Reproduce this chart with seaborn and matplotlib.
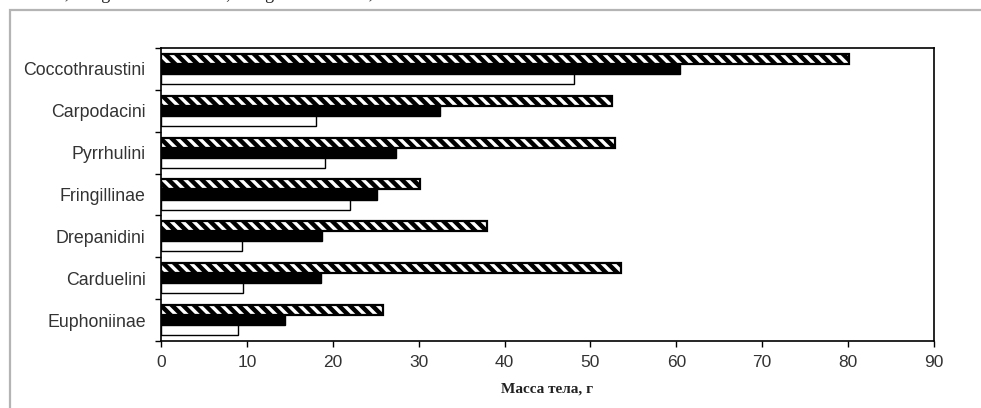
import pandas as pd
import matplotlib.pyplot as plt
import matplotlib.patches as mpatches
import seaborn as sns

# ── Data ─────────────────────────────────────────────────────
groups = ['Coccothraustini', 'Carpodacini', 'Pyrrhulini', 'Fringillinae',
          'Drepanidini', 'Carduelini', 'Euphoniinae']
mass_max = [80.1, 52.5, 52.9, 30.2, 38.0, 53.5, 25.9]
mass_mean = [60.4, 32.5, 27.4, 25.1, 18.8, 18.6, 14.4]
mass_min = [48.1, 18.1, 19.1, 22.0, 9.4, 9.6, 9.0]
series = ['max', 'mean', 'min']
x_ticks = list(range(0, 91, 10))

df = pd.DataFrame({
    'group': groups * 3,
    'mass': mass_max + mass_mean + mass_min,
    'series': [s for s in series for _ in groups],
})

# ── Style ────────────────────────────────────────────────────
sns.set_style('white')
plt.rcParams['font.family'] = ['Liberation Sans', 'DejaVu Sans']
plt.rcParams['hatch.linewidth'] = 3.2
plt.rcParams['hatch.color'] = 'black'

fig = plt.figure(figsize=(9.81, 4.08), dpi=100)
fig.patch.set_facecolor('white')

# outer gray frame of the scanned figure
fig.patches.append(mpatches.Rectangle((10 / 981, -0.05), 1.1, 1 - 10 / 408 + 0.05,
                                      transform=fig.transFigure, fill=False,
                                      edgecolor='#b4b4b4', linewidth=1.6))
# clipped caption line above the chart
fig.text(0.03, 1.014, '2008; Sangster   Drickamer, Fringillidae   2013; 0            ЗИН РАН',
         family='Liberation Serif', fontsize=13, color='#222222', va='center')

ax = fig.add_axes([161 / 981, 1 - 341 / 408, (934 - 161) / 981, (341 - 48) / 408])

sns.barplot(data=df, y='group', x='mass', hue='series', orient='h',
            order=groups, hue_order=series, width=0.72, gap=0,
            palette=['white', 'black', 'white'], edgecolor='black',
            linewidth=1.0, legend=False, ax=ax)

for bar in ax.containers[0]:
    bar.set_hatch('\\\\\\')
    bar.set_edgecolor('black')
    bar.set_linewidth(1.6)

ax.set_xlim(0, 90)
ax.set_ylim(len(groups) - 0.5, -0.5)
ax.set_xticks(x_ticks)
ax.set_xticklabels([str(t) for t in x_ticks])
ax.set_yticks(range(len(groups)))
ax.set_yticks([i - 0.5 for i in range(len(groups) + 1)], minor=True)

ax.tick_params(axis='y', which='major', length=0, pad=11,
               labelsize=12.8, labelcolor='#333333')
ax.tick_params(axis='y', which='minor', length=4, width=1.0,
               color='black', direction='out', left=True)
ax.tick_params(axis='x', which='major', length=4, width=1.0,
               color='black', direction='out', bottom=True, pad=6,
               labelsize=12.5, labelcolor='#333333')

for side in ['left', 'right', 'top', 'bottom']:
    ax.spines[side].set_visible(True)
    ax.spines[side].set_color('black')
    ax.spines[side].set_linewidth(1.2)

ax.set_ylabel('')
ax.set_xlabel('Масса тела, г', family='Liberation Serif', fontweight='bold',
              fontsize=11, color='#222222', labelpad=9)

plt.savefig('out.png', dpi=100, facecolor='white')
